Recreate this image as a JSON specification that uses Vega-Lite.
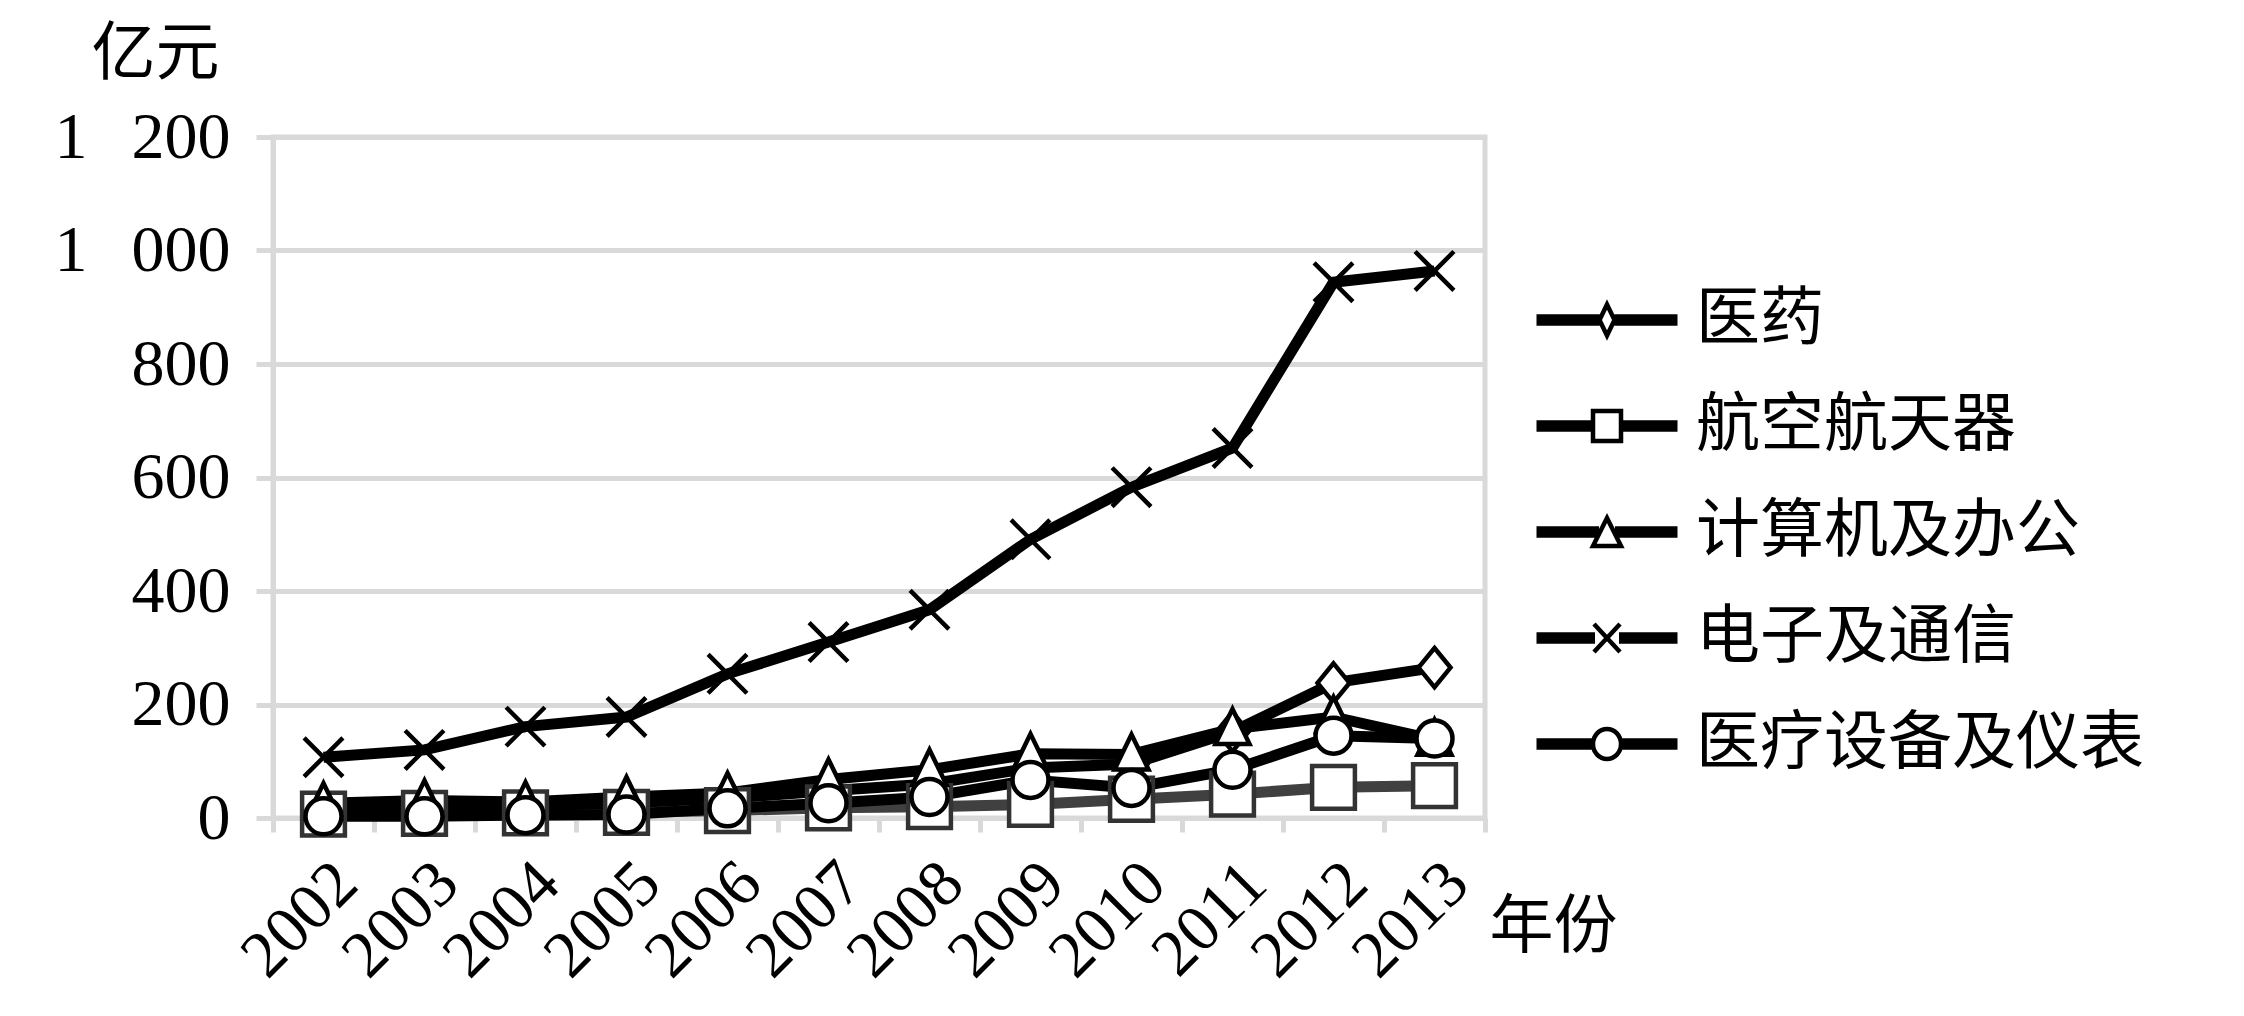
{
  "$schema": "https://vega.github.io/schema/vega-lite/v6.json",
  "width": 1212,
  "height": 681,
  "autosize": {"type": "none"},
  "padding": {"left": 273, "top": 137, "right": 759, "bottom": 198},
  "background": "white",
  "config": {
    "view": {"stroke": "#d9d9d9", "strokeWidth": 5},
    "font": "Liberation Serif, Noto Sans CJK SC",
    "point": {"filled": false, "strokeWidth": 4.5, "size": 1600, "opacity": 1, "color": "black"},
    "line": {"strokeWidth": 11, "color": "black"}
  },
  "data": {
    "values": [
      {"year": "2002", "series": "医药", "value": 15},
      {"year": "2003", "series": "医药", "value": 18},
      {"year": "2004", "series": "医药", "value": 21},
      {"year": "2005", "series": "医药", "value": 27},
      {"year": "2006", "series": "医药", "value": 35},
      {"year": "2007", "series": "医药", "value": 48},
      {"year": "2008", "series": "医药", "value": 60},
      {"year": "2009", "series": "医药", "value": 88},
      {"year": "2010", "series": "医药", "value": 95},
      {"year": "2011", "series": "医药", "value": 152},
      {"year": "2012", "series": "医药", "value": 238},
      {"year": "2013", "series": "医药", "value": 265},
      {"year": "2002", "series": "航空航天器", "value": 7},
      {"year": "2003", "series": "航空航天器", "value": 8},
      {"year": "2004", "series": "航空航天器", "value": 9},
      {"year": "2005", "series": "航空航天器", "value": 10},
      {"year": "2006", "series": "航空航天器", "value": 13},
      {"year": "2007", "series": "航空航天器", "value": 18},
      {"year": "2008", "series": "航空航天器", "value": 20},
      {"year": "2009", "series": "航空航天器", "value": 24},
      {"year": "2010", "series": "航空航天器", "value": 33},
      {"year": "2011", "series": "航空航天器", "value": 42},
      {"year": "2012", "series": "航空航天器", "value": 54},
      {"year": "2013", "series": "航空航天器", "value": 57},
      {"year": "2002", "series": "计算机及办公", "value": 26},
      {"year": "2003", "series": "计算机及办公", "value": 31},
      {"year": "2004", "series": "计算机及办公", "value": 28},
      {"year": "2005", "series": "计算机及办公", "value": 37},
      {"year": "2006", "series": "计算机及办公", "value": 44},
      {"year": "2007", "series": "计算机及办公", "value": 68},
      {"year": "2008", "series": "计算机及办公", "value": 85},
      {"year": "2009", "series": "计算机及办公", "value": 113},
      {"year": "2010", "series": "计算机及办公", "value": 112},
      {"year": "2011", "series": "计算机及办公", "value": 157},
      {"year": "2012", "series": "计算机及办公", "value": 178},
      {"year": "2013", "series": "计算机及办公", "value": 138},
      {"year": "2002", "series": "电子及通信", "value": 107},
      {"year": "2003", "series": "电子及通信", "value": 120},
      {"year": "2004", "series": "电子及通信", "value": 161},
      {"year": "2005", "series": "电子及通信", "value": 178},
      {"year": "2006", "series": "电子及通信", "value": 254},
      {"year": "2007", "series": "电子及通信", "value": 310},
      {"year": "2008", "series": "电子及通信", "value": 367},
      {"year": "2009", "series": "电子及通信", "value": 491},
      {"year": "2010", "series": "电子及通信", "value": 583},
      {"year": "2011", "series": "电子及通信", "value": 652},
      {"year": "2012", "series": "电子及通信", "value": 944},
      {"year": "2013", "series": "电子及通信", "value": 964},
      {"year": "2002", "series": "医疗设备及仪表", "value": 3},
      {"year": "2003", "series": "医疗设备及仪表", "value": 3},
      {"year": "2004", "series": "医疗设备及仪表", "value": 5},
      {"year": "2005", "series": "医疗设备及仪表", "value": 6},
      {"year": "2006", "series": "医疗设备及仪表", "value": 17},
      {"year": "2007", "series": "医疗设备及仪表", "value": 26},
      {"year": "2008", "series": "医疗设备及仪表", "value": 37},
      {"year": "2009", "series": "医疗设备及仪表", "value": 67},
      {"year": "2010", "series": "医疗设备及仪表", "value": 53},
      {"year": "2011", "series": "医疗设备及仪表", "value": 85},
      {"year": "2012", "series": "医疗设备及仪表", "value": 145},
      {"year": "2013", "series": "医疗设备及仪表", "value": 140}
    ]
  },
  "encoding": {
    "x": {
      "field": "year",
      "type": "ordinal",
      "sort": null,
      "scale": {"type": "band", "paddingInner": 0, "paddingOuter": 0},
      "axis": {
        "title": "年份",
        "titleFont": "Noto Sans CJK SC",
        "titleFontSize": 64,
        "titleFontWeight": "normal",
        "titleColor": "black",
        "titleX": 1216,
        "titleY": 128,
        "titleAlign": "left",
        "titleBaseline": "alphabetic",
        "labelAngle": -45,
        "labelFontSize": 66,
        "labelColor": "black",
        "labelPadding": 18,
        "labelDx": 14,
        "tickBand": "extent",
        "tickColor": "#d9d9d9",
        "tickWidth": 5,
        "tickSize": 14,
        "domainColor": "#d9d9d9",
        "domainWidth": 5,
        "grid": false
      }
    },
    "y": {
      "field": "value",
      "type": "quantitative",
      "scale": {"domain": [0, 1200], "nice": false},
      "axis": {
        "title": "亿元",
        "titleFont": "Noto Sans CJK SC",
        "titleFontSize": 64,
        "titleFontWeight": "normal",
        "titleColor": "black",
        "titleAngle": 0,
        "titleX": -118,
        "titleY": -64,
        "titleAlign": "center",
        "titleBaseline": "alphabetic",
        "values": [0, 200, 400, 600, 800, 1000, 1200],
        "labelExpr": "replace(format(datum.value, ','), ',', '\u2002\u2006')",
        "labelFontSize": 66,
        "labelColor": "black",
        "labelPadding": 26,
        "tickSize": 17,
        "tickColor": "#d9d9d9",
        "tickWidth": 5,
        "domainColor": "#d9d9d9",
        "domainWidth": 5,
        "gridColor": "#d9d9d9",
        "gridWidth": 5
      }
    }
  },
  "layer": [
    {
      "transform": [{"filter": "datum.series === '航空航天器'"}],
      "mark": {"type": "line", "color": "#404040"}
    },
    {
      "transform": [{"filter": "datum.series !== '航空航天器'"}],
      "mark": {"type": "line"},
      "encoding": {"detail": {"field": "series", "type": "nominal"}}
    },
    {
      "transform": [{"filter": "datum.series === '医药'"}],
      "mark": {"type": "point", "fill": "white", "shape": "M0,-0.98L0.8,0L0,0.98L-0.8,0Z"}
    },
    {
      "transform": [{"filter": "datum.series === '航空航天器'"}],
      "mark": {"type": "point", "fill": "white", "color": "#333333", "shape": "M-1.07,-1.07H1.07V1.07H-1.07Z"}
    },
    {
      "transform": [{"filter": "datum.series === '计算机及办公'"}],
      "mark": {"type": "point", "fill": "white", "shape": "M0,-1L0.85,0.75H-0.85Z"}
    },
    {
      "transform": [{"filter": "datum.series === '电子及通信'"}],
      "mark": {"type": "point", "fill": "white", "shape": "M-0.97,-0.97L0.97,0.97M-0.97,0.97L0.97,-0.97"}
    },
    {
      "transform": [{"filter": "datum.series === '医疗设备及仪表'"}],
      "mark": {"type": "point", "fill": "white", "shape": "M-0.9,0A0.9,0.9 0 1,0 0.9,0A0.9,0.9 0 1,0 -0.9,0Z"}
    },
    {
      "transform": [{"filter": "false"}],
      "mark": {"type": "point", "strokeWidth": 3.5, "color": "black"},
      "encoding": {
        "shape": {
          "field": "series",
          "type": "nominal",
          "scale": {
            "domain": ["医药", "航空航天器", "计算机及办公", "电子及通信", "医疗设备及仪表"],
            "range": [
              "M-7.05,-0.35H-0.75M-7.05,0H-0.75M-7.05,0.35H-0.75M0.75,-0.35H7.05M0.75,0H7.05M0.75,0.35H7.05M0,-1.55L0.75,0L0,1.55L-0.75,0Z",
              "M-7.05,-0.35H-1.4M-7.05,0H-1.4M-7.05,0.35H-1.4M1.4,-0.35H7.05M1.4,0H7.05M1.4,0.35H7.05M-1.4,-1.5H1.4V1.5H-1.4Z",
              "M-7.05,-0.35H-0.8M-7.05,0H-0.8M-7.05,0.35H-0.8M0.8,-0.35H7.05M0.8,0H7.05M0.8,0.35H7.05M0,-1.4L1.4,1.4H-1.4Z",
              "M-7.05,-0.35H-1.2M-7.05,0H-1.2M-7.05,0.35H-1.2M1.2,-0.35H7.05M1.2,0H7.05M1.2,0.35H7.05M-1.3,-1.4L1.3,1.4M-1.3,1.4L1.3,-1.4",
              "M-7.05,-0.35H-1.4M-7.05,0H-1.4M-7.05,0.35H-1.4M1.4,-0.35H7.05M1.4,0H7.05M1.4,0.35H7.05M-1.4,0A1.4,1.5 0 1,0 1.4,0A1.4,1.5 0 1,0 -1.4,0Z"
            ]
          },
          "legend": {
            "title": null,
            "orient": "none",
            "legendX": 1302,
            "legendY": 151,
            "symbolSize": 400,
            "symbolStrokeWidth": 3.5,
            "symbolStrokeColor": "black",
            "symbolOpacity": 1,
            "labelFont": "Noto Sans CJK SC",
            "labelFontSize": 64,
            "labelColor": "black",
            "labelOffset": 57,
            "labelLimit": 0,
            "rowPadding": 42
          }
        }
      }
    }
  ]
}
